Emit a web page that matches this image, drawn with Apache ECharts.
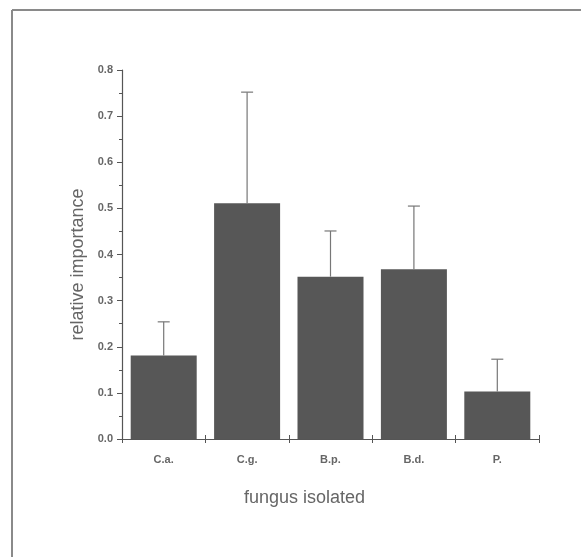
<!DOCTYPE html>
<html>
<head>
<meta charset="utf-8">
<script src="https://cdn.jsdelivr.net/npm/echarts@6/dist/echarts.min.js"></script>
<style>
html,body{margin:0;padding:0;background:#fff;}
#chart{width:581px;height:557px;}
</style>
</head>
<body>
<div id="chart"></div>
<script>
const categories = ['C.a.', 'C.g.', 'B.p.', 'B.d.', 'P.'];
const means = [0.181, 0.511, 0.352, 0.368, 0.103];
const upperErrors = [0.254, 0.752, 0.451, 0.505, 0.173];
const yTicks = [0.0, 0.1, 0.2, 0.3, 0.4, 0.5, 0.6, 0.7, 0.8];

const chart = echarts.init(document.getElementById('chart'), null, {renderer: 'canvas'});

const errData = categories.map((c, i) => [i, means[i], upperErrors[i]]);

const option = {
  animation: false,
  backgroundColor: '#ffffff',
  grid: {left: 122, right: 42, top: 70, bottom: 118},
  graphic: [
    {type: 'line', shape: {x1: 12, y1: 10, x2: 581, y2: 10}, style: {stroke: '#8a8a8a', lineWidth: 2}},
    {type: 'line', shape: {x1: 12, y1: 10, x2: 12, y2: 557}, style: {stroke: '#8a8a8a', lineWidth: 2}}
  ],
  xAxis: [{
    type: 'category',
    data: categories,
    boundaryGap: true,
    name: 'fungus isolated',
    nameLocation: 'middle',
    nameGap: 50,
    nameTextStyle: {fontFamily: 'Liberation Sans', fontSize: 18, color: '#666', padding: [0, 52, 0, 0]},
    axisLine: {lineStyle: {color: '#555', width: 1.2}},
    axisTick: {show: true, alignWithLabel: false, length: 4, lineStyle: {color: '#555'}},
    axisLabel: {fontFamily: 'Liberation Sans', fontWeight: 'bold', fontSize: 11, color: '#666', margin: 15}
  }, {
    type: 'category',
    data: categories,
    position: 'bottom',
    axisLine: {show: false},
    axisTick: {show: true, inside: true, length: 4, lineStyle: {color: '#555'}},
    axisLabel: {show: false}
  }],
  yAxis: {
    type: 'value',
    min: 0, max: 0.8, interval: 0.1,
    name: 'relative importance',
    nameLocation: 'middle',
    nameGap: 35,
    nameTextStyle: {fontFamily: 'Liberation Sans', fontSize: 18, color: '#666', padding: [0, 0, 0, -20]},
    axisLine: {show: true, lineStyle: {color: '#555', width: 1.2}},
    axisTick: {show: true, length: 5, lineStyle: {color: '#555'}},
    minorTick: {show: true, splitNumber: 2, length: 3, lineStyle: {color: '#555'}},
    splitLine: {show: false},
    axisLabel: {
      fontFamily: 'Liberation Sans', fontWeight: 'bold', fontSize: 11, color: '#666', margin: 9,
      formatter: v => {
        const t = yTicks.find(x => Math.abs(x - v) < 1e-9);
        return (t !== undefined ? t : v).toFixed(1);
      }
    }
  },
  series: [{
    type: 'bar',
    data: means,
    barWidth: 66,
    itemStyle: {color: '#575757'},
    z: 2
  }, {
    type: 'custom',
    data: errData,
    z: 3,
    renderItem: function (params, api) {
      const x = api.value(0);
      const top = api.coord([x, api.value(2)]);
      const base = api.coord([x, api.value(1)]);
      const cap = 6;
      const style = {stroke: '#777', lineWidth: 1.2};
      return {
        type: 'group',
        children: [
          {type: 'line', shape: {x1: top[0], y1: base[1], x2: top[0], y2: top[1]}, style: style},
          {type: 'line', shape: {x1: top[0] - cap, y1: top[1], x2: top[0] + cap, y2: top[1]}, style: style}
        ]
      };
    }
  }]
};
chart.setOption(option);
</script>
</body>
</html>
